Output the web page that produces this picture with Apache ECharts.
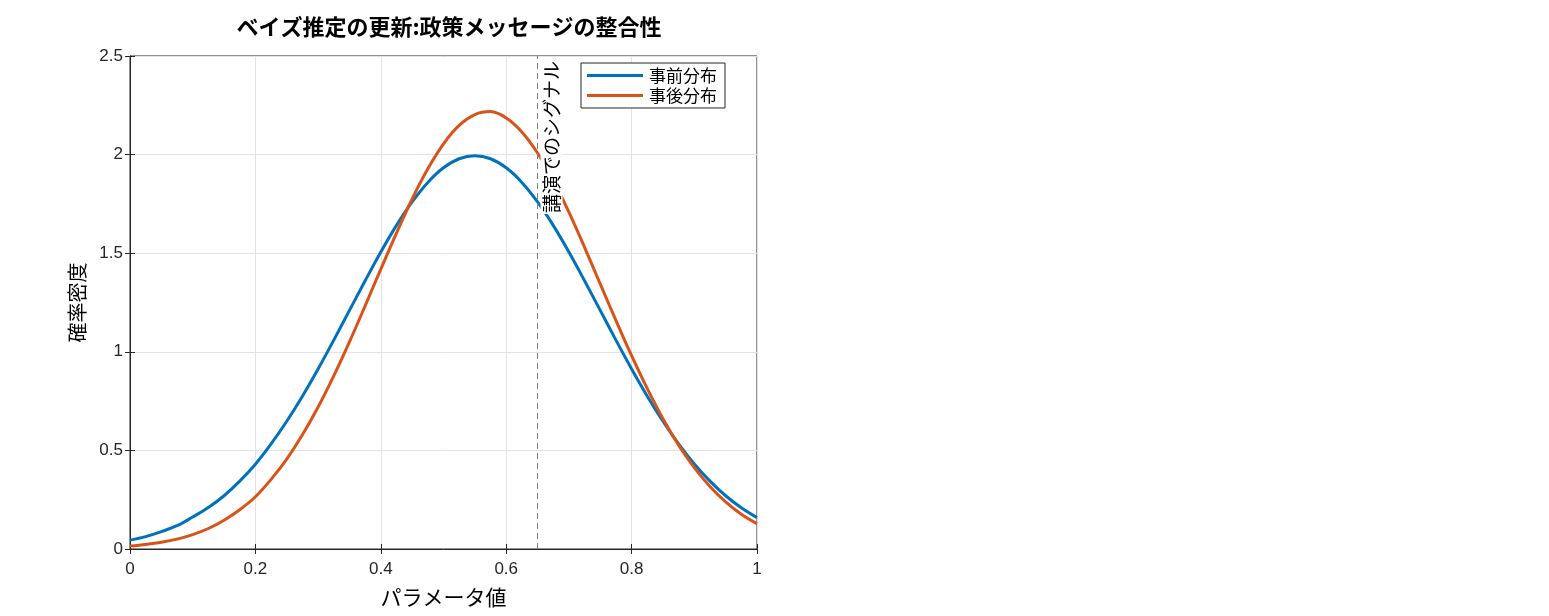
<!DOCTYPE html>
<html>
<head>
<meta charset="utf-8">
<script src="https://cdn.jsdelivr.net/npm/echarts@6/dist/echarts.min.js"></script>
<style>
  html, body { margin: 0; padding: 0; background: #fff; }
  #chart { width: 1549px; height: 616px; }
</style>
</head>
<body>
<div id="chart"></div>
<script>
// パラメータ値 (x), step 0.025
const xs = [0, 0.025, 0.05, 0.075, 0.1, 0.125, 0.15, 0.175, 0.2, 0.225,
  0.25, 0.275, 0.3, 0.325, 0.35, 0.375, 0.4, 0.425, 0.45, 0.475,
  0.5, 0.525, 0.55, 0.575, 0.6, 0.625, 0.65, 0.675, 0.7, 0.725,
  0.75, 0.775, 0.8, 0.825, 0.85, 0.875, 0.9, 0.925, 0.95, 0.975, 1]

// 事前分布
const prior = [0.045, 0.063, 0.088, 0.118, 0.162, 0.21, 0.27, 0.344, 0.43, 0.533,
  0.648, 0.775, 0.913, 1.059, 1.21, 1.36, 1.506, 1.641, 1.76, 1.859,
  1.933, 1.979, 1.994, 1.979, 1.933, 1.859, 1.76, 1.641, 1.506, 1.36,
  1.21, 1.059, 0.913, 0.775, 0.648, 0.533, 0.431, 0.344, 0.27, 0.209, 0.159]

// 事後分布
const posterior = [0.015, 0.023, 0.034, 0.05, 0.073, 0.104, 0.146, 0.199, 0.265, 0.353,
  0.456, 0.579, 0.72, 0.878, 1.05, 1.233, 1.419, 1.602, 1.775, 1.928,
  2.055, 2.148, 2.203, 2.218, 2.186, 2.115, 2.008, 1.87, 1.708, 1.53,
  1.344, 1.159, 0.98, 0.813, 0.661, 0.527, 0.413, 0.317, 0.239, 0.176, 0.128]

const signalX = 0.65
const signalLabel = '講演でのシグナル'

const pair = (ys) => xs.map((x, i) => [x, ys[i]])

const font = '"Liberation Sans", "Noto Sans CJK JP", sans-serif'
const cjk = '"Noto Sans CJK JP", sans-serif'
const axisColor = '#262626'
const gridColor = '#e3e3e3'

const chart = echarts.init(document.getElementById('chart'))

const tickStyle = { show: true, inside: true, length: 5, lineStyle: { color: axisColor } }

chart.setOption({
  animation: false,
  textStyle: { fontFamily: font },
  title: {
    text: 'ベイズ推定の更新:政策メッセージの整合性',
    left: 444,
    top: 11,
    textAlign: 'center',
    textStyle: { fontSize: 22, fontWeight: 'bold', color: '#000', fontFamily: cjk }
  },
  legend: {
    right: 824,
    top: 63,
    orient: 'vertical',
    itemWidth: 56,
    itemHeight: 3,
    itemGap: 3,
    padding: [4, 8, 4, 6],
    backgroundColor: '#fff',
    borderColor: axisColor,
    borderWidth: 1,
    borderRadius: 0,
    icon: 'rect',
    textStyle: { fontSize: 17, color: '#000', fontFamily: cjk, padding: [0, 0, 0, 1] },
    data: ['事前分布', '事後分布']
  },
  grid: {
    left: 130,
    right: 792,
    top: 56,
    bottom: 67,
    show: true,
    borderColor: axisColor,
    borderWidth: 1,
    containLabel: false
  },
  xAxis: [{
    type: 'value',
    min: 0,
    max: 1,
    interval: 0.2,
    name: 'パラメータ値',
    nameLocation: 'middle',
    nameGap: 38,
    nameTextStyle: { fontSize: 21, color: '#000', fontFamily: cjk },
    axisLine: { show: true, lineStyle: { color: axisColor } },
    axisTick: tickStyle,
    axisLabel: { fontSize: 17, color: '#262626', margin: 12 },
    splitLine: { show: true, lineStyle: { color: gridColor } }
  }, {
    type: 'value',
    position: 'top',
    min: 0,
    max: 1,
    interval: 0.2,
    axisLine: { show: false },
    axisTick: tickStyle,
    axisLabel: { show: false },
    splitLine: { show: false }
  }],
  yAxis: [{
    type: 'value',
    min: 0,
    max: 2.5,
    interval: 0.5,
    name: '確率密度',
    nameLocation: 'middle',
    nameGap: 43,
    nameTextStyle: { fontSize: 20, color: '#000', fontFamily: cjk },
    axisLine: { show: true, lineStyle: { color: axisColor } },
    axisTick: tickStyle,
    axisLabel: { fontSize: 17, color: '#262626', margin: 7 },
    splitLine: { show: true, lineStyle: { color: gridColor } }
  }, {
    type: 'value',
    position: 'right',
    min: 0,
    max: 2.5,
    interval: 0.5,
    axisLine: { show: false },
    axisTick: tickStyle,
    axisLabel: { show: false },
    splitLine: { show: false }
  }],
  series: [{
    name: '事前分布',
    type: 'line',
    data: pair(prior),
    smooth: 0.35,
    showSymbol: false,
    color: '#0072BD',
    lineStyle: { width: 3, color: '#0072BD' },
    z: 3
  }, {
    name: '事後分布',
    type: 'line',
    data: pair(posterior),
    smooth: 0.35,
    showSymbol: false,
    color: '#D95319',
    lineStyle: { width: 3, color: '#D95319' },
    z: 3,
    markLine: {
      silent: true,
      symbol: 'none',
      z: 5,
      lineStyle: { type: [6, 4], color: '#808080', width: 1 },
      label: {
        show: true,
        position: 'insideEndBottom',
        formatter: signalLabel,
        fontSize: 19,
        fontFamily: cjk,
        color: '#000',
        backgroundColor: '#fff',
        padding: [2, 1, 1, 1],
        distance: [4, 3]
      },
      data: [{ xAxis: signalX }]
    }
  }]
})
</script>
</body>
</html>
